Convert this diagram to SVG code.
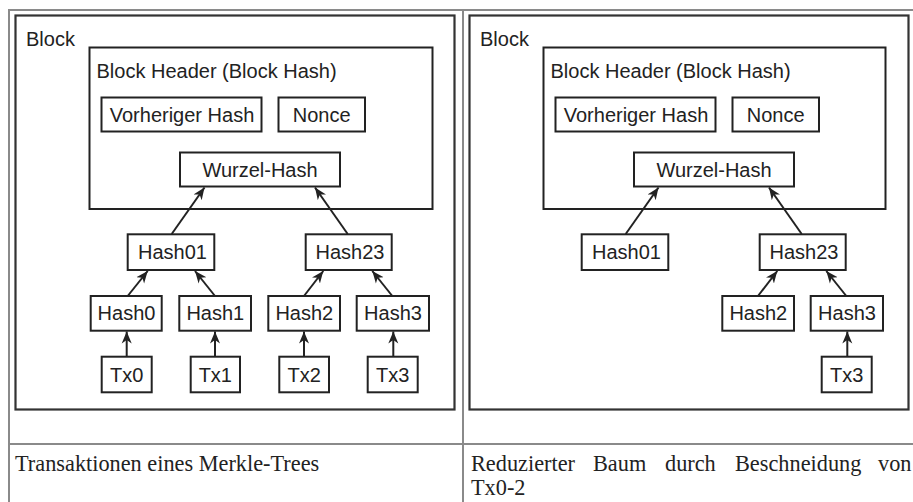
<svg xmlns="http://www.w3.org/2000/svg" width="913" height="502" viewBox="0 0 913 502">
<style>
.grid{stroke:#8a8a8a;stroke-width:2;fill:none}
.blk{fill:none;stroke:#333;stroke-width:2.2}
.box{fill:#fff;stroke:#222;stroke-width:2}
.t{font-family:"Liberation Sans",Arial,sans-serif;font-size:20px;fill:#222}
.c{text-anchor:middle}
.cap{font-family:"Liberation Serif","Times New Roman",serif;font-size:22.3px;fill:#222}
.arr{stroke:#222;stroke-width:2;fill:none;marker-end:url(#ah)}
</style>
<defs>
<marker id="ah" viewBox="-12 -6 14 12" refX="0" refY="0" markerUnits="userSpaceOnUse" markerWidth="14" markerHeight="12" orient="auto">
<path d="M-12,-5 L0,0 L-12,5 L-8.5,0 z" fill="#222"/>
</marker>
</defs>
<rect width="913" height="502" fill="#fff"/>
<g id="table">
<line class="grid" x1="8" y1="10" x2="913" y2="10"/>
<line class="grid" x1="9" y1="9" x2="9" y2="502"/>
<line class="grid" x1="463" y1="9" x2="463" y2="502"/>
<line class="grid" x1="8" y1="444" x2="913" y2="444"/>
</g>
<g id="left-block">
<rect class="blk" x="15.5" y="15.5" width="439" height="394"/>
<text class="t" x="26" y="46">Block</text>
</g>
<g id="left-header">
<rect class="box" x="89.5" y="47.5" width="343" height="161.5"/>
<text class="t" x="96.5" y="77.5">Block Header (Block Hash)</text>
</g>
<g id="left-prev"><rect class="box" x="101.5" y="97.5" width="160" height="34"/><text class="t c" x="182" y="121.7">Vorheriger Hash</text></g>
<g id="left-nonce"><rect class="box" x="278.5" y="97.5" width="86.5" height="34"/><text class="t c" x="321.7" y="121.7">Nonce</text></g>
<g id="left-root"><rect class="box" x="180" y="152.5" width="160" height="34"/><text class="t c" x="260" y="176.7">Wurzel-Hash</text></g>
<g id="left-hash01"><rect class="box" x="127.7" y="234.3" width="86.6" height="35.7"/><text class="t c" x="172.5" y="258.5">Hash01</text></g>
<g id="left-hash23"><rect class="box" x="305.7" y="234.3" width="86" height="35.7"/><text class="t c" x="350" y="258.5">Hash23</text></g>
<g id="left-hash0"><rect class="box" x="90.7" y="296" width="71" height="34.7"/><text class="t c" x="126.5" y="320">Hash0</text></g>
<g id="left-hash1"><rect class="box" x="179.3" y="296" width="71.7" height="34.7"/><text class="t c" x="215.3" y="320">Hash1</text></g>
<g id="left-hash2"><rect class="box" x="268.3" y="296" width="71.7" height="34.7"/><text class="t c" x="304.3" y="320">Hash2</text></g>
<g id="left-hash3"><rect class="box" x="356.7" y="296" width="72.3" height="34.7"/><text class="t c" x="393" y="320">Hash3</text></g>
<g id="left-tx0"><rect class="box" x="101.7" y="356.7" width="50" height="35.6"/><text class="t c" x="126.7" y="381.7">Tx0</text></g>
<g id="left-tx1"><rect class="box" x="190.7" y="356.7" width="49.3" height="35.6"/><text class="t c" x="215.3" y="381.7">Tx1</text></g>
<g id="left-tx2"><rect class="box" x="279.3" y="356.7" width="49.7" height="35.6"/><text class="t c" x="304.2" y="381.7">Tx2</text></g>
<g id="left-tx3"><rect class="box" x="367.7" y="356.7" width="50" height="35.6"/><text class="t c" x="392.7" y="381.7">Tx3</text></g>

<g id="right-block">
<rect class="blk" x="469.5" y="15.5" width="439" height="394"/>
<text class="t" x="480" y="46">Block</text>
</g>
<g id="right-header">
<rect class="box" x="543.5" y="47.5" width="342" height="161.5"/>
<text class="t" x="550.5" y="77.5">Block Header (Block Hash)</text>
</g>
<g id="right-prev"><rect class="box" x="555.5" y="97.5" width="160" height="34"/><text class="t c" x="636" y="121.7">Vorheriger Hash</text></g>
<g id="right-nonce"><rect class="box" x="732.5" y="97.5" width="86.5" height="34"/><text class="t c" x="775.7" y="121.7">Nonce</text></g>
<g id="right-root"><rect class="box" x="634" y="152.5" width="160" height="34"/><text class="t c" x="714" y="176.7">Wurzel-Hash</text></g>
<g id="right-hash01"><rect class="box" x="581.7" y="234.3" width="86.6" height="35.7"/><text class="t c" x="626.5" y="258.5">Hash01</text></g>
<g id="right-hash23"><rect class="box" x="759.7" y="234.3" width="86" height="35.7"/><text class="t c" x="804" y="258.5">Hash23</text></g>
<g id="right-hash2"><rect class="box" x="722.3" y="296" width="71.7" height="34.7"/><text class="t c" x="758.3" y="320">Hash2</text></g>
<g id="right-hash3"><rect class="box" x="810.7" y="296" width="72.3" height="34.7"/><text class="t c" x="847" y="320">Hash3</text></g>
<g id="right-tx3"><rect class="box" x="821.7" y="356.7" width="50" height="35.6"/><text class="t c" x="846.7" y="381.7">Tx3</text></g>

<g id="connectors">
<line class="arr" x1="171.7" y1="234" x2="204.5" y2="187.5"/>
<line class="arr" x1="347.7" y1="234" x2="315" y2="187.5"/>
<line class="arr" x1="127.7" y1="296" x2="147.7" y2="271"/>
<line class="arr" x1="215" y1="296" x2="195" y2="271"/>
<line class="arr" x1="304" y1="296" x2="323.3" y2="271"/>
<line class="arr" x1="392.3" y1="296" x2="372.3" y2="271"/>
<line class="arr" x1="126.7" y1="356.7" x2="126.7" y2="331.5"/>
<line class="arr" x1="215" y1="356.7" x2="215" y2="331.5"/>
<line class="arr" x1="304" y1="356.7" x2="304" y2="331.5"/>
<line class="arr" x1="393.3" y1="356.7" x2="393.3" y2="331.5"/>
<line class="arr" x1="625.7" y1="234" x2="658.5" y2="187.5"/>
<line class="arr" x1="801.7" y1="234" x2="769" y2="187.5"/>
<line class="arr" x1="758" y1="296" x2="777.3" y2="271"/>
<line class="arr" x1="846.3" y1="296" x2="826.3" y2="271"/>
<line class="arr" x1="847.3" y1="356.7" x2="847.3" y2="331.5"/>
</g>
<g id="captions">
<text class="cap" x="15" y="471">Transaktionen eines Merkle-Trees</text>
<text class="cap" y="471"><tspan x="471">Reduzierter</tspan> <tspan x="593">Baum</tspan> <tspan x="665">durch</tspan> <tspan x="735">Beschneidung</tspan> <tspan x="878">von</tspan></text>
<text class="cap" x="471" y="495">Tx0-2</text>
</g>
</svg>
